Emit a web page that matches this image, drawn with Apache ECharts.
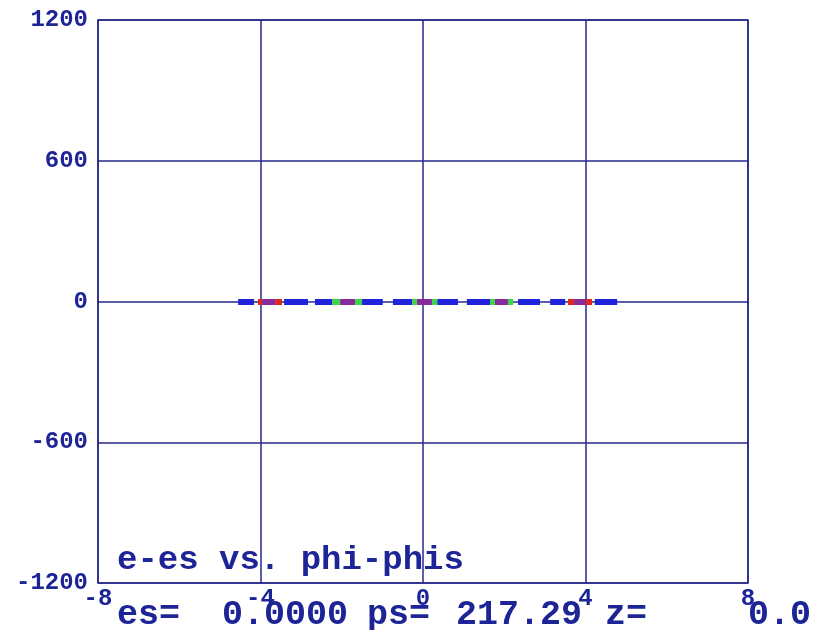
<!DOCTYPE html>
<html>
<head>
<meta charset="utf-8">
<script src="https://cdn.jsdelivr.net/npm/echarts@6/dist/echarts.min.js"></script>
<style>
  html, body { margin: 0; padding: 0; background: #ffffff; }
  #chart { width: 818px; height: 630px; }
</style>
</head>
<body>
<div id="chart"></div>
<script>
// Phase-space runs along phi-phis (x), all sitting at e-es = eLevel
const eLevel = 0;
const blueRuns = [[-4.55, -4.16], [-3.42, -2.83], [-2.66, -2.24], [-1.50, -0.99], [-0.74, -0.27],
                  [0.35, 0.86], [1.08, 1.65], [2.34, 2.88], [3.13, 3.50], [4.23, 4.78]];
const redRuns = [[-4.06, -3.96], [-3.64, -3.47], [3.57, 3.72], [4.01, 4.16]];
const purpleRuns = [[-3.96, -3.64], [-2.04, -1.67], [-0.15, 0.22], [1.77, 2.09], [3.72, 4.01]];
const greenRuns = [[-2.24, -2.04], [-1.67, -1.50], [-0.27, -0.15], [0.22, 0.35], [1.65, 1.77], [2.09, 2.22]];

const xTicks = [-8, -4, 0, 4, 8];
const yTicks = [-1200, -600, 0, 600, 1200];

const plotTitle = 'e-es vs. phi-phis';
const statusParts = [
  { text: 'es=', x: 117 },
  { text: '0.0000', x: 222 },
  { text: 'ps=', x: 367 },
  { text: '217.29', x: 456 },
  { text: 'z=', x: 605 },
  { text: '0.0', x: 748 }
];

const navy = '#262a8a';
const textBlue = '#1c2496';
const monoFont = '"Liberation Mono", "DejaVu Sans Mono", monospace';

function runsToLines(runs) {
  return runs.map(function (r) {
    return { coords: [[r[0], eLevel], [r[1], eLevel]] };
  });
}

function runSeries(runs, color) {
  return {
    type: 'lines',
    coordinateSystem: 'cartesian2d',
    polyline: false,
    silent: true,
    lineStyle: { color: color, width: 6, opacity: 1, cap: 'butt' },
    data: runsToLines(runs),
    z: 5
  };
}

// plain integer tick text, no thousands separators
function plainTick(v) { return String(v); }

const chart = echarts.init(document.getElementById('chart'), null, { renderer: 'canvas' });

chart.setOption({
  animation: false,
  backgroundColor: '#ffffff',
  grid: {
    left: 98, top: 20, width: 650, height: 563,
    show: true, borderColor: navy, borderWidth: 1.5, backgroundColor: 'transparent'
  },
  xAxis: {
    type: 'value',
    min: xTicks[0], max: xTicks[xTicks.length - 1], interval: 4,
    axisLine: { show: false },
    axisTick: { show: false },
    splitLine: { show: true, lineStyle: { color: navy, width: 1.5 } },
    axisLabel: {
      show: true, margin: 4, color: textBlue, formatter: plainTick,
      fontFamily: monoFont, fontWeight: 'bold', fontSize: 24,
      showMinLabel: true, showMaxLabel: true
    }
  },
  yAxis: {
    type: 'value',
    min: yTicks[0], max: yTicks[yTicks.length - 1], interval: 600,
    axisLine: { show: false },
    axisTick: { show: false },
    splitLine: { show: true, lineStyle: { color: navy, width: 1.5 } },
    axisLabel: {
      show: true, margin: 10, color: textBlue, formatter: plainTick,
      fontFamily: monoFont, fontWeight: 'bold', fontSize: 24,
      showMinLabel: true, showMaxLabel: true
    }
  },
  graphic: [
    {
      type: 'text', left: 117, top: 543, z: 10,
      style: { text: plotTitle, fill: textBlue, font: 'bold 34px ' + monoFont }
    }
  ].concat(statusParts.map(function (p) {
    return {
      type: 'text', left: p.x, top: 598, z: 10,
      style: { text: p.text, fill: textBlue, font: 'bold 35px ' + monoFont }
    };
  })),
  series: [
    runSeries(blueRuns, '#1f23dc'),
    runSeries(redRuns, '#e0261e'),
    runSeries(purpleRuns, '#862a9c'),
    runSeries(greenRuns, '#3fd44c')
  ]
});
</script>
</body>
</html>
